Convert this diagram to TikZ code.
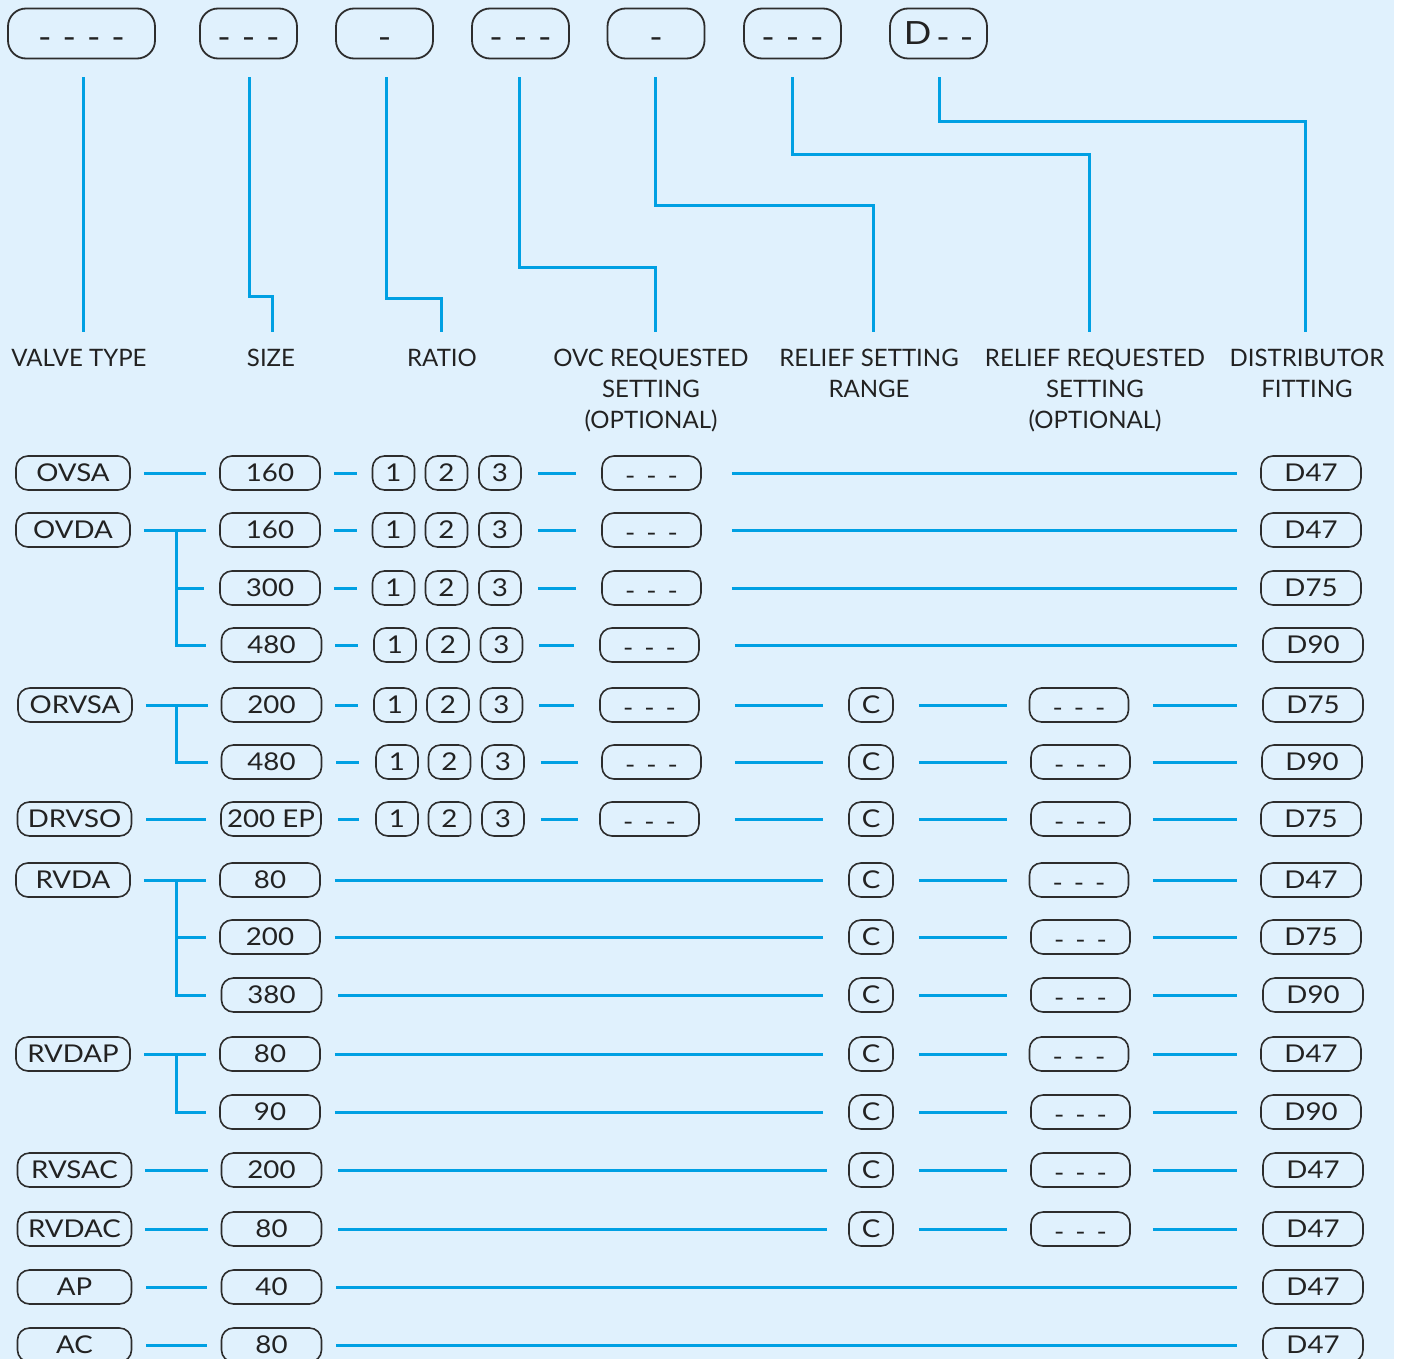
\documentclass[tikz,border=0pt]{standalone}
\usepackage{fontspec}
\setmainfont{Lato}
\newfontfamily\widefont{Lato}[FakeStretch=1.13]
\usetikzlibrary{calc}
\definecolor{bgc}{RGB}{224,241,253}
\definecolor{lnc}{RGB}{0,160,227}
\definecolor{bdc}{RGB}{45,45,45}
\definecolor{txc}{RGB}{34,34,34}
\newcommand{\dd}{\raisebox{-2.5pt}{-\hspace{11pt}-\hspace{11pt}-}}
\newcommand{\td}{\raisebox{-4pt}{-}}
\newcommand{\lk}[4]{\draw[conn,shorten <=#3pt,shorten >=#4pt] (#1) -- (#2);}
\begin{document}
\begin{tikzpicture}[x=1pt,y=-1pt,
 conn/.style={draw=lnc,line width=3pt},
 rbox/.style={draw=bdc,line width=1.6pt,rounded corners=12pt,minimum height=34pt,inner sep=0pt,text=txc,text height=17.6pt,text depth=0pt,font=\widefont\fontsize{24.5}{28}\selectfont},
 tbox/.style={rbox,minimum width=114pt},
 sbox/.style={rbox,minimum width=100pt},
 nbox/.style={rbox,minimum width=42pt},
 cbox/.style={rbox,minimum width=44pt},
 dbox/.style={rbox,minimum width=99pt},
 fbox/.style={rbox,minimum width=100pt},
 topbox/.style={draw=bdc,line width=1.8pt,rounded corners=18pt,minimum height=50pt,minimum width=97pt,inner sep=0pt,text=txc,text height=23pt,text depth=0pt,font=\widefont\fontsize{32}{36}\selectfont},
 lab/.style={anchor=north,inner sep=0pt,align=center,text=txc,font=\fontsize{24}{31}\selectfont}
]
\useasboundingbox (0,0) rectangle (1402,1359);
\fill[bgc] (0,0) rectangle (1394,1359);

% top boxes
\node[topbox,minimum width=147pt] (t1) at (81.5,33.5) {\td\hspace{11pt}\td\hspace{11pt}\td\hspace{11pt}\td};
\node[topbox] (t2) at (248.5,33.5) {\td\hspace{11pt}\td\hspace{11pt}\td};
\node[topbox] (t3) at (384.5,33.5) {\td};
\node[topbox] (t4) at (520.5,33.5) {\td\hspace{11pt}\td\hspace{11pt}\td};
\node[topbox] (t5) at (656,33.5) {\td};
\node[topbox] (t6) at (792.5,33.5) {\td\hspace{11pt}\td\hspace{11pt}\td};
\node[topbox] (t7) at (938.5,33.5) {D\hspace{5pt}\td\hspace{10pt}\td};

% labels
\node[lab] (l1) at (79,349) {VALVE TYPE};
\node[lab] (l2) at (271,349) {SIZE};
\node[lab] (l3) at (442,349) {RATIO};
\node[lab] (l4) at (651,349) {OVC REQUESTED\\SETTING\\(OPTIONAL)};
\node[lab] (l5) at (869,349) {RELIEF SETTING\\RANGE};
\node[lab] (l6) at (1095,349) {RELIEF REQUESTED\\SETTING\\(OPTIONAL)};
\node[lab] (l7) at (1307,349) {DISTRIBUTOR\\FITTING};

% top connectors
\draw[conn] ($(t1.south)+(1.5,18)$) -- ($(t1.south |- l1.north)+(1.5,-17)$);
\draw[conn] ($(t2.south)+(0.5,18)$) |- ($(l2.north)+(1,-53)$) -- ($(l2.north)+(1,-17)$);
\draw[conn] ($(t3.south)+(1.5,18)$) |- ($(l3.north)+(-1,-51)$) -- ($(l3.north)+(-1,-17)$);
\draw[conn] ($(t4.south)+(-1.5,18)$) |- ($(l4.north)+(4,-82)$) -- ($(l4.north)+(4,-17)$);
\draw[conn] ($(t5.south)+(-1,18)$) |- ($(l5.north)+(4,-143)$) -- ($(l5.north)+(4,-17)$);
\draw[conn] ($(t6.south)+(-0.5,18)$) |- ($(l6.north)+(-6,-194)$) -- ($(l6.north)+(-6,-17)$);
\draw[conn] ($(t7.south)+(0.5,18)$) |- ($(l7.north)+(-2,-227)$) -- ($(l7.north)+(-2,-17)$);

% ---- rows 1-4 (OVSA, OVDA)
\node[tbox] (r1a) at (73,473) {OVSA};
\node[sbox] (r1b) at (270,473) {160};
\node[nbox] (r1n1) at (393.5,473) {1};
\node[nbox] (r1n2) at (446.5,473) {2};
\node[nbox] (r1n3) at (500,473) {3};
\node[dbox] (r1d) at (651.5,473) {\dd};
\node[fbox] (r1f) at (1311,473) {D47};
\lk{r1a}{r1b}{13}{13}\lk{r1b}{r1n1}{13}{15}\lk{r1n3}{r1d}{16}{25}\lk{r1d}{r1f}{30}{23}

\node[tbox] (r2a) at (73,530) {OVDA};
\node[sbox] (r2b) at (270,530) {160};
\node[nbox] (r2n1) at (393.5,530) {1};
\node[nbox] (r2n2) at (446.5,530) {2};
\node[nbox] (r2n3) at (500,530) {3};
\node[dbox] (r2d) at (651.5,530) {\dd};
\node[fbox] (r2f) at (1311,530) {D47};
\lk{r2a}{r2b}{13}{13}\lk{r2b}{r2n1}{13}{15}\lk{r2n3}{r2d}{16}{25}\lk{r2d}{r2f}{30}{23}

\node[sbox] (r3b) at (270,588) {300};
\node[nbox] (r3n1) at (393.5,588) {1};
\node[nbox] (r3n2) at (446.5,588) {2};
\node[nbox] (r3n3) at (500,588) {3};
\node[dbox] (r3d) at (651.5,588) {\dd};
\node[fbox] (r3f) at (1311,588) {D75};
\lk{r3b}{r3n1}{13}{15}\lk{r3n3}{r3d}{16}{25}\lk{r3d}{r3f}{30}{23}

\node[sbox] (r4b) at (271.5,645) {480};
\node[nbox] (r4n1) at (395,645) {1};
\node[nbox] (r4n2) at (448,645) {2};
\node[nbox] (r4n3) at (501.5,645) {3};
\node[dbox] (r4d) at (649.5,645) {\dd};
\node[fbox] (r4f) at (1313,645) {D90};
\lk{r4b}{r4n1}{13}{15}\lk{r4n3}{r4d}{16}{25}\lk{r4d}{r4f}{35}{25}
\draw[conn] ($(r2a.east)+(46,0)$) |- ($(r3b.west)+(-15,0)$);
\draw[conn] ($(r2a.east)+(46,0)$) |- ($(r4b.west)+(-15,0)$);

% ---- rows 5-6 (ORVSA)
\node[tbox] (r5a) at (75,705) {ORVSA};
\node[sbox] (r5b) at (271.5,705) {200};
\node[nbox] (r5n1) at (395,705) {1};
\node[nbox] (r5n2) at (448,705) {2};
\node[nbox] (r5n3) at (501.5,705) {3};
\node[dbox] (r5d) at (649.5,705) {\dd};
\node[cbox] (r5c) at (871,705) {C};
\node[dbox] (r5e) at (1079,705) {\dd};
\node[fbox] (r5f) at (1313,705) {D75};
\lk{r5a}{r5b}{13}{13}\lk{r5b}{r5n1}{13}{15}\lk{r5n3}{r5d}{16}{25}\lk{r5d}{r5c}{35}{25}\lk{r5c}{r5e}{25}{22}\lk{r5e}{r5f}{24}{25}

\node[sbox] (r6b) at (271.5,762) {480};
\node[nbox] (r6n1) at (397,762) {1};
\node[nbox] (r6n2) at (449.5,762) {2};
\node[nbox] (r6n3) at (503,762) {3};
\node[dbox] (r6d) at (651.5,762) {\dd};
\node[cbox] (r6c) at (871,762) {C};
\node[dbox] (r6e) at (1080.5,762) {\dd};
\node[fbox] (r6f) at (1312,762) {D90};
\lk{r6b}{r6n1}{14}{16}\lk{r6n3}{r6d}{16}{23}\lk{r6d}{r6c}{33}{25}\lk{r6c}{r6e}{25}{23}\lk{r6e}{r6f}{22}{24}
\draw[conn] ($(r5a.east)+(44,0)$) |- ($(r6b.west)+(-13,0)$);

% ---- row 7 (DRVSO)
\node[tbox] (r7a) at (74.5,819) {DRVSO};
\node[sbox] (r7b) at (271,819) {200 EP};
\node[nbox] (r7n1) at (397,819) {1};
\node[nbox] (r7n2) at (449.5,819) {2};
\node[nbox] (r7n3) at (503,819) {3};
\node[dbox] (r7d) at (649.5,819) {\dd};
\node[cbox] (r7c) at (871,819) {C};
\node[dbox] (r7e) at (1080.5,819) {\dd};
\node[fbox] (r7f) at (1311,819) {D75};
\lk{r7a}{r7b}{14}{14}\lk{r7b}{r7n1}{16}{16}\lk{r7n3}{r7d}{16}{21}\lk{r7d}{r7c}{35}{25}\lk{r7c}{r7e}{25}{23}\lk{r7e}{r7f}{22}{23}

% ---- rows 8-10 (RVDA)
\node[tbox] (r8a) at (73,880) {RVDA};
\node[sbox] (r8b) at (270,880) {80};
\node[cbox] (r8c) at (871,880) {C};
\node[dbox] (r8e) at (1079,880) {\dd};
\node[fbox] (r8f) at (1311,880) {D47};
\lk{r8a}{r8b}{13}{13}\lk{r8b}{r8c}{14}{25}\lk{r8c}{r8e}{25}{22}\lk{r8e}{r8f}{24}{23}

\node[sbox] (r9b) at (270,937) {200};
\node[cbox] (r9c) at (871,937) {C};
\node[dbox] (r9e) at (1080.5,937) {\dd};
\node[fbox] (r9f) at (1311,937) {D75};
\lk{r9b}{r9c}{14}{25}\lk{r9c}{r9e}{25}{23}\lk{r9e}{r9f}{22}{23}

\node[sbox] (r10b) at (271.5,995) {380};
\node[cbox] (r10c) at (871,995) {C};
\node[dbox] (r10e) at (1080.5,995) {\dd};
\node[fbox] (r10f) at (1313,995) {D90};
\lk{r10b}{r10c}{16}{25}\lk{r10c}{r10e}{25}{23}\lk{r10e}{r10f}{22}{25}
\draw[conn] ($(r8a.east)+(46,0)$) |- ($(r9b.west)+(-13,0)$);
\draw[conn] ($(r8a.east)+(46,0)$) |- ($(r10b.west)+(-15,0)$);

% ---- rows 11-12 (RVDAP)
\node[tbox] (r11a) at (73,1054) {RVDAP};
\node[sbox] (r11b) at (270,1054) {80};
\node[cbox] (r11c) at (871,1054) {C};
\node[dbox] (r11e) at (1079,1054) {\dd};
\node[fbox] (r11f) at (1311,1054) {D47};
\lk{r11a}{r11b}{13}{13}\lk{r11b}{r11c}{14}{25}\lk{r11c}{r11e}{25}{22}\lk{r11e}{r11f}{24}{23}

\node[sbox] (r12b) at (270,1112) {90};
\node[cbox] (r12c) at (871,1112) {C};
\node[dbox] (r12e) at (1080.5,1112) {\dd};
\node[fbox] (r12f) at (1311,1112) {D90};
\lk{r12b}{r12c}{14}{25}\lk{r12c}{r12e}{25}{23}\lk{r12e}{r12f}{22}{23}
\draw[conn] ($(r11a.east)+(46,0)$) |- ($(r12b.west)+(-13,0)$);

% ---- row 13 (RVSAC), 14 (RVDAC)
\node[tbox] (r13a) at (74.5,1170) {RVSAC};
\node[sbox] (r13b) at (271.5,1170) {200};
\node[cbox] (r13c) at (871,1170) {C};
\node[dbox] (r13e) at (1080.5,1170) {\dd};
\node[fbox] (r13f) at (1313,1170) {D47};
\lk{r13a}{r13b}{13}{13}\lk{r13b}{r13c}{16}{21}\lk{r13c}{r13e}{25}{23}\lk{r13e}{r13f}{22}{25}

\node[tbox] (r14a) at (74.5,1229) {RVDAC};
\node[sbox] (r14b) at (271.5,1229) {80};
\node[cbox] (r14c) at (871,1229) {C};
\node[dbox] (r14e) at (1080.5,1229) {\dd};
\node[fbox] (r14f) at (1313,1229) {D47};
\lk{r14a}{r14b}{13}{13}\lk{r14b}{r14c}{16}{21}\lk{r14c}{r14e}{25}{23}\lk{r14e}{r14f}{22}{25}

% ---- rows 15-16 (AP, AC)
\node[tbox] (r15a) at (74.5,1287) {AP};
\node[sbox] (r15b) at (271.5,1287) {40};
\node[fbox] (r15f) at (1313,1287) {D47};
\lk{r15a}{r15b}{14}{14}\lk{r15b}{r15f}{14}{25}

\node[tbox] (r16a) at (74.5,1345) {AC};
\node[sbox] (r16b) at (271.5,1345) {80};
\node[fbox] (r16f) at (1313,1345) {D47};
\lk{r16a}{r16b}{14}{14}\lk{r16b}{r16f}{14}{25}
\end{tikzpicture}
\end{document}
